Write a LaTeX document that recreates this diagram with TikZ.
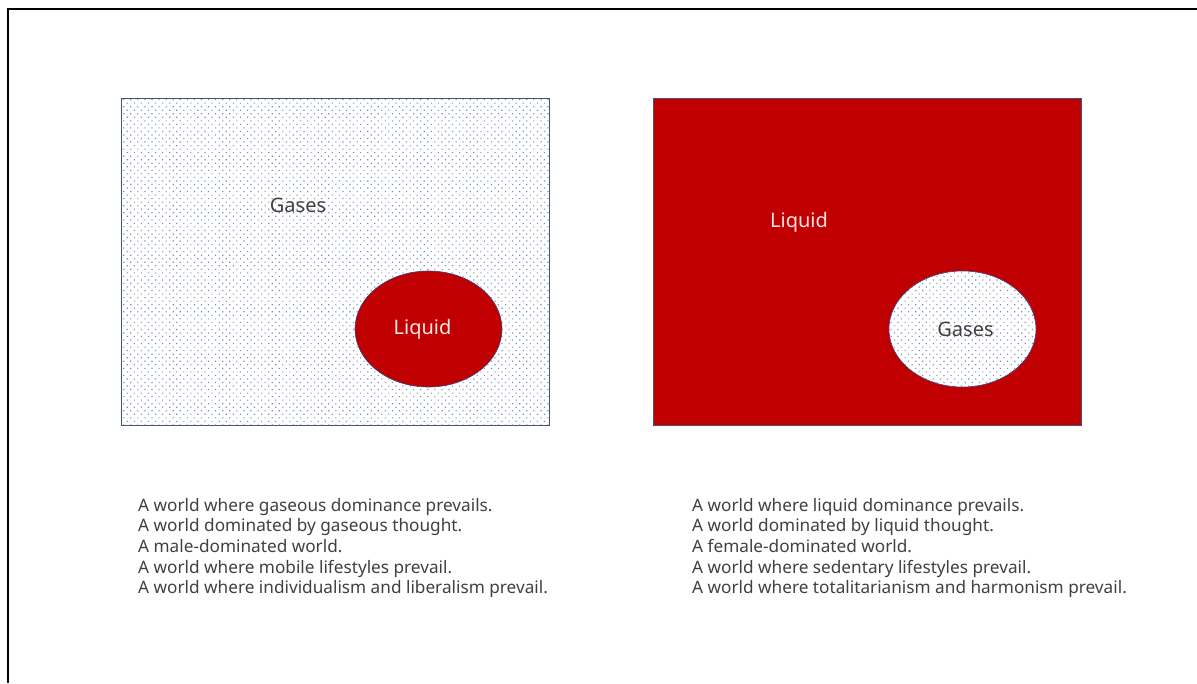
\documentclass[tikz,border=0pt]{standalone}
\usepackage{fontspec}
\setmainfont{Noto Sans}
\usepackage{tikz}
\usetikzlibrary{positioning, shapes.geometric, patterns.meta}
\definecolor{CRed}{HTML}{C00000}
\definecolor{CEdge}{HTML}{44546A}
\definecolor{CDots}{HTML}{7A8FAD}
\definecolor{CText}{HTML}{404040}
\tikzset{
    gasfill/.style={
        fill=white,
        postaction={pattern={Dots[distance=5pt, radius=0.8pt, angle=45]}, pattern color=CDots}
    },
    worldbox/.style={
        rectangle,
        draw=CEdge,
        line width=0.6pt,
        minimum width=428pt,
        minimum height=327pt,
        inner sep=0pt
    },
    blob/.style={
        ellipse,
        draw=CEdge!80!blue,
        line width=0.6pt,
        minimum width=147pt,
        minimum height=116pt,
        inner sep=0pt
    },
    phase/.style={
        font=\fontsize{20}{24}\selectfont
    },
    notes/.style={
        anchor=north west,
        align=left,
        text=CText,
        inner sep=0pt,
        font=\fontsize{17.2}{20.6}\selectfont
    }
}
\begin{document}
\begin{tikzpicture}[x=1pt, y=-1pt]
    \useasboundingbox (0,0) rectangle (1197,683);
    % Frame
    \coordinate (frameR) at (1197,9);
    \coordinate (frameC) at (8,9);
    \coordinate (frameB) at (8,683);
    \draw[line width=1.5pt] (frameR) -- (frameC) -- (frameB);

    % Gas world
    \node[worldbox, gasfill] (gasworld) at (335,261.5) {};
    \node[blob, fill=CRed] (gasblob) at (428.5,329) {};
    \node[phase, text=CText] (gaslabel) at (298,205) {Gases};
    \node[phase, text=red!10] at ([xshift=-6pt]gasblob) {Liquid};

    % Liquid world
    \node[worldbox, fill=CRed] (liqworld) at (867.5,261.5) {};
    \node[blob, gasfill] (liqblob) at (962.5,329) {};
    \node[phase, text=red!10] (liqlabel) at (799,222) {Liquid};
    \node[phase, text=CText] at ([xshift=3pt]liqblob) {Gases};

    % Texts
    \node[notes] (gasnotes) at (138,498) {A world where gaseous dominance prevails.\\
        A world dominated by gaseous thought.\\
        A male-dominated world.\\
        A world where mobile lifestyles prevail.\\
        A world where individualism and liberalism prevail.};
    \node[notes] (liqnotes) at (692,498) {A world where liquid dominance prevails.\\
        A world dominated by liquid thought.\\
        A female-dominated world.\\
        A world where sedentary lifestyles prevail.\\
        A world where totalitarianism and harmonism prevail.};
\end{tikzpicture}
\end{document}
